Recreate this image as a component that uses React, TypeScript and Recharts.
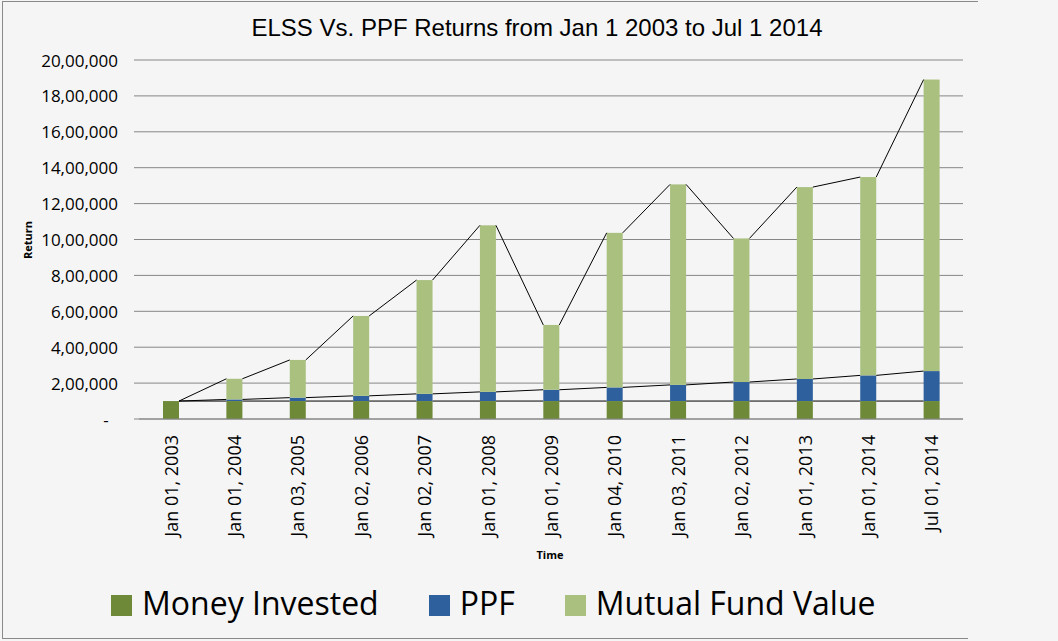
import React from 'react';
import { BarChart, Bar, XAxis, YAxis, CartesianGrid, Legend } from 'recharts';

const categories = [
  'Jan 01, 2003', 'Jan 01, 2004', 'Jan 03, 2005', 'Jan 02, 2006', 'Jan 02, 2007',
  'Jan 01, 2008', 'Jan 01, 2009', 'Jan 04, 2010', 'Jan 03, 2011', 'Jan 02, 2012',
  'Jan 01, 2013', 'Jan 01, 2014', 'Jul 01, 2014',
];
const moneyInvested = [100000, 100000, 100000, 100000, 100000, 100000, 100000, 100000, 100000, 100000, 100000, 100000, 100000];
const ppfValue = [100000, 109000, 119000, 129000, 140000, 151000, 163000, 176000, 190000, 206000, 223000, 243000, 267000];
const mutualFundValue = [100000, 224000, 329000, 574000, 774000, 1079000, 524000, 1037000, 1307000, 1006000, 1292000, 1348000, 1891000];
const yTicks = [0, 200000, 400000, 600000, 800000, 1000000, 1200000, 1400000, 1600000, 1800000, 2000000];
const seriesNames = ['Money Invested', 'PPF', 'Mutual Fund Value'];

const COLORS = { money: '#6E8A38', ppf: '#2F609E', mf: '#A9C07F' };
const GRID = '#868686';

const chartData = categories.map((date, i) => ({
  date,
  money: moneyInvested[i],
  ppf: ppfValue[i] - moneyInvested[i],
  mf: mutualFundValue[i] - ppfValue[i],
}));

function formatIndian(n: number): string {
  if (n === 0) return '-';
  const s = String(Math.round(n));
  if (s.length <= 3) return s;
  const last3 = s.slice(-3);
  const rest = s.slice(0, -3).replace(/\B(?=(\d{2})+(?!\d))/g, ',');
  return rest + ',' + last3;
}

const geo: Record<string, Record<number, { x: number; y: number; w: number }>> = {};

function makeShape(key: string, fill: string) {
  return (props: any) => {
    const { x, y, width, height, index } = props;
    if (!geo[key]) geo[key] = {};
    geo[key][index] = { x, y, w: width };
    const prev = index > 0 ? geo[key][index - 1] : undefined;
    return (
      <g>
        {height > 0 && <rect x={x} y={y} width={width} height={height} fill={fill} />}
        {prev && (
          <line x1={prev.x + prev.w} y1={prev.y} x2={x} y2={y} stroke="#000" strokeWidth={1} />
        )}
      </g>
    );
  };
}

const XTick = (props: any) => {
  const { x, y, payload } = props;
  return (
    <g transform={`translate(${x},${y})`}>
      <text
        transform="rotate(-90)"
        textAnchor="end"
        dominantBaseline="central"
        fontFamily="'Open Sans', sans-serif"
        fontSize={18}
        fill="#000"
      >
        {payload.value}
      </text>
    </g>
  );
};

const YTick = (props: any) => {
  const { x, y, payload } = props;
  const isZero = payload.value === 0;
  return (
    <text
      x={isZero ? x - 12 : x}
      y={y}
      textAnchor={isZero ? 'middle' : 'end'}
      dominantBaseline="central"
      fontFamily="'Open Sans', sans-serif"
      fontSize={17}
      fill="#000"
    >
      {formatIndian(payload.value)}
    </text>
  );
};

const LegendContent = (props: any) => {
  const payload = [...(props.payload || [])].sort(
    (a: any, b: any) => seriesNames.indexOf(a.value) - seriesNames.indexOf(b.value)
  );
  return (
    <div
      style={{
        height: 60,
        boxSizing: 'border-box',
        paddingLeft: 111,
        paddingTop: 22,
        display: 'flex',
        alignItems: 'flex-start',
        fontFamily: "'Open Sans', sans-serif",
        fontSize: 32,
        color: '#000',
      }}
    >
      {payload.map((entry: any, i: number) => (
        <div key={i} style={{ display: 'flex', alignItems: 'center', marginRight: 50 }}>
          <span
            style={{
              display: 'inline-block',
              width: 21,
              height: 21,
              background: entry.color,
              marginRight: 10,
              marginTop: 4,
            }}
          />
          <span style={{ lineHeight: '44px', whiteSpace: 'nowrap' }}>{entry.value}</span>
        </div>
      ))}
    </div>
  );
};

export default function App() {
  return (
    <div style={{ position: 'absolute', left: 0, top: 0, width: 1058, height: 641, background: '#F5F5F5' }}>
      <div style={{ position: 'absolute', left: 2, top: 1, width: 976, height: 1, background: '#8a8a8a' }} />
      <div style={{ position: 'absolute', left: 2, top: 1, width: 1, height: 638, background: '#8a8a8a' }} />
      <div style={{ position: 'absolute', left: 2, top: 638, width: 966, height: 1, background: '#8a8a8a' }} />
      <div style={{ position: 'absolute', left: 0, top: 0 }}>
        <BarChart
          width={1058}
          height={641}
          data={chartData}
          margin={{ top: 60, right: 95, left: 0, bottom: 22 }}
          barSize={16}
        >
          <text
            x={537}
            y={36}
            textAnchor="middle"
            fontFamily="'Liberation Sans', Arial, sans-serif"
            fontSize={24}
            fill="#000"
          >
            ELSS Vs. PPF Returns from Jan 1 2003 to Jul 1 2014
          </text>
          <text
            transform="translate(27,240) rotate(-90)"
            textAnchor="middle"
            dominantBaseline="central"
            fontFamily="'Open Sans', sans-serif"
            fontWeight="bold"
            fontSize={11}
            fill="#000"
          >
            Return
          </text>
          <text
            x={550}
            y={554}
            textAnchor="middle"
            dominantBaseline="central"
            fontFamily="'Open Sans', sans-serif"
            fontWeight="bold"
            fontSize={11}
            fill="#000"
          >
            Time
          </text>
          <CartesianGrid vertical={false} stroke={GRID} strokeWidth={1} />
          <XAxis
            dataKey="date"
            height={140}
            interval={0}
            tick={<XTick />}
            tickLine={false}
            tickSize={0}
            tickMargin={16}
            axisLine={{ stroke: GRID }}
          />
          <YAxis
            width={139}
            domain={[0, 2000000]}
            ticks={yTicks}
            interval={0}
            axisLine={false}
            tickLine={{ stroke: GRID }}
            tickSize={5}
            tickMargin={16}
            tick={<YTick />}
          />
          <Legend verticalAlign="bottom" content={<LegendContent />} wrapperStyle={{ left: 0, width: 1058 }} />
          <Bar dataKey="money" name="Money Invested" stackId="a" fill={COLORS.money} shape={makeShape('money', COLORS.money)} isAnimationActive={false} />
          <Bar dataKey="ppf" name="PPF" stackId="a" fill={COLORS.ppf} shape={makeShape('ppf', COLORS.ppf)} isAnimationActive={false} />
          <Bar dataKey="mf" name="Mutual Fund Value" stackId="a" fill={COLORS.mf} shape={makeShape('mf', COLORS.mf)} isAnimationActive={false} />
        </BarChart>
      </div>
    </div>
  );
}
